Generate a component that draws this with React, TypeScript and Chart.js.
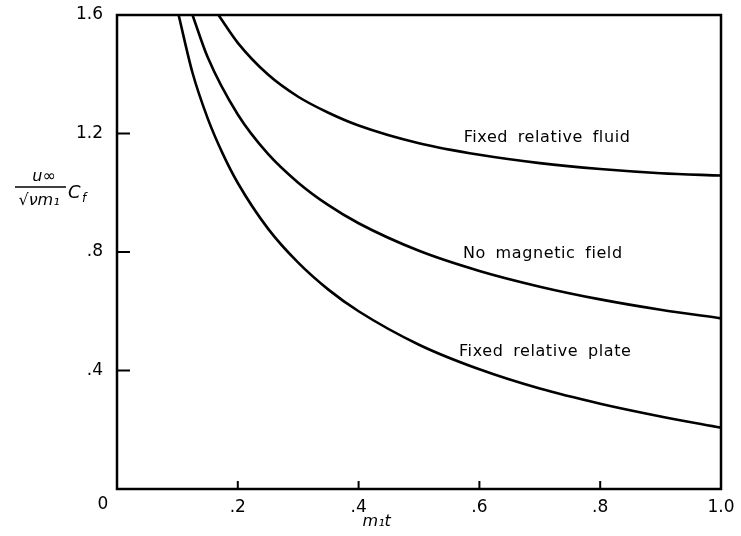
import { useEffect, useRef } from 'react';
import { Chart, registerables } from 'chart.js';

Chart.register(...registerables);

// Fixed relative fluid
const fluidX = [0.168, 0.2, 0.25, 0.3, 0.35, 0.4, 0.5, 0.6, 0.7, 0.8, 0.9, 1.0];
const fluidY = [1.6, 1.506, 1.399, 1.324, 1.27, 1.227, 1.167, 1.128, 1.1, 1.08, 1.066, 1.058];

// No magnetic field
const noMagX = [0.125, 0.15, 0.2, 0.25, 0.3, 0.35, 0.4, 0.5, 0.6, 0.7, 0.8, 0.9, 1.0];
const noMagY = [1.6, 1.458, 1.264, 1.131, 1.034, 0.958, 0.897, 0.804, 0.736, 0.683, 0.64, 0.605, 0.576];

// Fixed relative plate
const plateX = [0.102, 0.125, 0.15, 0.175, 0.2, 0.25, 0.3, 0.35, 0.4, 0.5, 0.6, 0.7, 0.8, 0.9, 1.0];
const plateY = [1.6, 1.405, 1.252, 1.132, 1.033, 0.879, 0.764, 0.673, 0.6, 0.487, 0.404, 0.339, 0.288, 0.245, 0.207];

const curveLabels = ['Fixed relative fluid', 'No magnetic field', 'Fixed relative plate'];
const xTickLabels = ['0', '.2', '.4', '.6', '.8', '1.0'];
const yTickLabels = ['0', '.4', '.8', '1.2', '1.6'];

const FONT = '"DejaVu Sans", "Liberation Sans", sans-serif';

const toPoints = (xs: number[], ys: number[]) => xs.map((x, i) => ({ x, y: ys[i] }));

const decorPlugin = {
  id: 'decor',
  afterDraw(chart: any) {
    const { ctx, chartArea, scales } = chart;
    const { left, right, top, bottom } = chartArea;
    const xs = scales.x;
    const ys = scales.y;
    ctx.save();
    ctx.strokeStyle = '#000';
    ctx.fillStyle = '#000';
    ctx.lineWidth = 2.5;
    ctx.strokeRect(left, top, right - left, bottom - top);

    // inward ticks
    ctx.lineWidth = 2;
    ctx.beginPath();
    for (let i = 1; i < xTickLabels.length - 1; i++) {
      const px = xs.getPixelForValue(i * 0.2);
      ctx.moveTo(px, bottom);
      ctx.lineTo(px, bottom - 8);
    }
    for (let i = 1; i < yTickLabels.length - 1; i++) {
      const py = ys.getPixelForValue(i * 0.4);
      ctx.moveTo(left, py);
      ctx.lineTo(left + 13, py);
    }
    ctx.stroke();

    // corner zero
    ctx.font = `17px ${FONT}`;
    ctx.textAlign = 'center';
    ctx.textBaseline = 'middle';
    ctx.fillText(xTickLabels[0], left - 14, bottom + 16);

    // curve labels
    ctx.font = `16px ${FONT}`;
    (ctx as any).letterSpacing = '0.6px';
    (ctx as any).wordSpacing = '4px';
    ctx.fillText(curveLabels[0], xs.getPixelForValue(0.712), ys.getPixelForValue(1.185));
    ctx.fillText(curveLabels[1], xs.getPixelForValue(0.705), ys.getPixelForValue(0.795));
    ctx.fillText(curveLabels[2], xs.getPixelForValue(0.709), ys.getPixelForValue(0.462));
    (ctx as any).letterSpacing = '0px';
    (ctx as any).wordSpacing = '0px';

    // x axis title
    ctx.font = `italic 16px ${FONT}`;
    ctx.fillText('m\u2081t', xs.getPixelForValue(0.43), bottom + 33);

    // y axis title (fraction)
    ctx.font = `italic 16px ${FONT}`;
    ctx.fillText('u\u221E', 44, 177);
    ctx.lineWidth = 1.5;
    ctx.beginPath();
    ctx.moveTo(15, 187);
    ctx.lineTo(66, 187);
    ctx.stroke();
    ctx.fillText('\u221A\u03BDm\u2081', 39, 201);
    ctx.textAlign = 'left';
    ctx.font = `italic 18px ${FONT}`;
    ctx.fillText('C', 68, 193);
    ctx.font = `italic 12px ${FONT}`;
    ctx.fillText('f', 82, 199);
    ctx.restore();
  },
};

export default function App() {
  const canvasRef = useRef<HTMLCanvasElement | null>(null);

  useEffect(() => {
    document.body.style.margin = '0';
    const canvas = canvasRef.current;
    if (!canvas) return;
    const lineStyle = {
      borderColor: '#000',
      borderWidth: 2.6,
      pointRadius: 0,
      fill: false,
      cubicInterpolationMode: 'monotone' as const,
    };
    const chart = new Chart(canvas, {
      type: 'line',
      data: {
        datasets: [
          { label: curveLabels[0], data: toPoints(fluidX, fluidY), ...lineStyle },
          { label: curveLabels[1], data: toPoints(noMagX, noMagY), ...lineStyle },
          { label: curveLabels[2], data: toPoints(plateX, plateY), ...lineStyle },
        ],
      },
      options: {
        animation: false,
        responsive: true,
        maintainAspectRatio: false,
        layout: { padding: { top: 15, right: 20, left: 0, bottom: 0 } },
        plugins: { legend: { display: false }, tooltip: { enabled: false } },
        scales: {
          x: {
            type: 'linear',
            min: 0,
            max: 1,
            border: { display: false },
            grid: { display: false, drawTicks: false },
            ticks: {
              stepSize: 0.2,
              padding: 8,
              color: '#000',
              font: { family: FONT, size: 17 },
              callback: (_v: any, i: number) => (i === 0 ? '' : xTickLabels[i]),
            },
            afterFit: (s: any) => {
              s.height = 47;
              s.paddingLeft = 0;
              s.paddingRight = 0;
            },
          },
          y: {
            type: 'linear',
            min: 0,
            max: 1.6,
            border: { display: false },
            grid: { display: false, drawTicks: false },
            ticks: {
              stepSize: 0.4,
              padding: 14,
              color: '#000',
              font: { family: FONT, size: 17 },
              callback: (_v: any, i: number) => (i === 0 ? '' : yTickLabels[i]),
            },
            afterFit: (s: any) => {
              s.width = 117;
              s.paddingTop = 0;
              s.paddingBottom = 0;
            },
          },
        },
      },
      plugins: [decorPlugin],
    });
    return () => chart.destroy();
  }, []);

  return (
    <div style={{ width: 741, height: 536, position: 'relative', background: '#fff' }}>
      <canvas ref={canvasRef} />
    </div>
  );
}
